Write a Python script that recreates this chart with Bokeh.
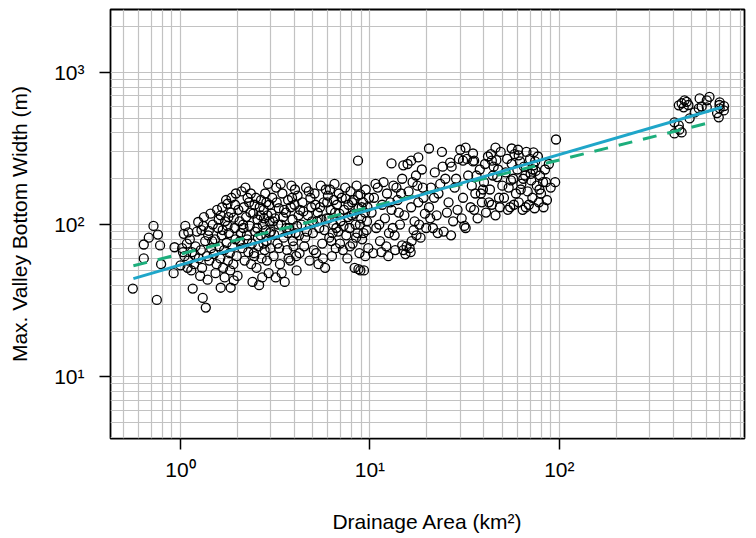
from bokeh.plotting import figure
from bokeh.models import ColumnDataSource, FixedTicker, CustomJSTickFormatter, Range1d
from bokeh.embed import file_html
from bokeh.resources import INLINE

# ---- data (drainage area km^2, max valley bottom width m) ----
area0 = [0.56, 0.75, 0.64, 0.68, 0.76, 0.72, 0.78, 0.64, 0.79, 0.92, 0.93]
width0 = [38, 32, 74, 82, 86, 98, 73, 60, 55, 48, 71]

area1 = [1.02, 1.05, 1.08, 1.1, 1.12, 1.15, 1.18, 1.2, 1.22, 1.25, 1.28, 1.3, 1.32, 1.35, 1.38, 1.4,
         1.06, 1.04, 1.10, 1.16, 1.31, 1.36, 1.39, 1.0, 1.03, 1.14, 1.24, 1.27, 1.33, 1.19, 1.09, 1.29]
width1 = [70, 62, 75, 58, 80, 66, 55, 72, 90, 60, 68, 52, 98, 78, 62, 85,
          98, 87, 89, 38, 33, 28.5, 43.5, 54, 66, 50, 104, 46, 112, 63, 52, 92]

area2 = [1.44, 1.63, 1.77, 1.77, 1.91, 1.41, 1.63, 1.84, 1.91, 2.0, 1.45, 1.5, 1.52, 1.55, 1.58, 1.6,
         1.62, 1.65, 1.68, 1.7, 1.72, 1.75, 1.78, 1.8, 1.82, 1.85, 1.88, 1.9, 1.93, 1.95, 1.98, 1.48,
         1.56, 1.66, 1.74, 1.86, 1.96, 1.94, 1.53, 1.71, 1.83, 1.47, 1.67, 1.79, 1.59, 1.42]
width2 = [118, 115, 98, 137, 111, 91, 38.5, 38.5, 43, 46, 70, 64, 80, 55, 95, 72,
          60, 85, 52, 68, 105, 76, 58, 88, 65, 120, 72, 55, 95, 80, 62, 100,
          125, 130, 145, 150, 160, 135, 48, 45, 50, 78, 92, 112, 108, 58]

area3 = [2.02, 2.05, 2.08, 2.1, 2.12, 2.15, 2.18, 2.2, 2.22, 2.25, 2.28, 2.3, 2.32, 2.35, 2.38, 2.4,
         2.42, 2.45, 2.48, 2.5, 2.52, 2.55, 2.58, 2.6, 2.62, 2.65, 2.68, 2.7, 2.72, 2.75, 2.78, 2.8,
         2.82, 2.85, 2.88, 2.9, 2.92, 2.95, 2.98, 2.06, 2.16, 2.26, 2.36, 2.46, 2.56, 2.66, 2.76, 2.86,
         2.96, 2.14, 2.34, 2.54, 2.74, 2.94, 2.24, 2.44, 2.64, 2.84]
width3 = [125, 105, 88, 165, 70, 95, 58, 175, 112, 80, 66, 140, 98, 160, 75, 42,
          118, 62, 90, 150, 52, 108, 72, 40, 130, 85, 60, 45, 100, 125, 68, 160,
          92, 78, 115, 185, 48, 105, 70, 78, 130, 150, 55, 135, 82, 145, 110, 58,
          88, 100, 120, 95, 75, 135, 85, 65, 115, 140]

area4 = [3.0, 3.05, 3.1, 3.15, 3.2, 3.25, 3.3, 3.35, 3.4, 3.45, 3.5, 3.55, 3.6, 3.65, 3.7, 3.75,
         3.8, 3.85, 3.9, 3.95, 4.0, 4.05, 4.1, 4.15, 4.2, 4.25, 3.02, 3.12, 3.22, 3.32, 3.42, 3.52,
         3.62, 3.72, 3.82, 3.92, 4.02, 4.12, 4.22, 3.08, 3.28, 3.48, 3.68, 3.88, 4.08, 4.28, 3.18, 3.38]
width4 = [90, 150, 62, 110, 175, 75, 128, 55, 100, 160, 82, 42, 120, 68, 145, 95,
          58, 180, 108, 72, 135, 88, 50, 155, 115, 65, 118, 86, 140, 70, 48, 125,
          95, 60, 130, 78, 170, 98, 85, 105, 100, 112, 88, 150, 62, 125, 45, 185]

area5 = [4.35, 4.4, 4.5, 4.6, 4.7, 4.8, 4.9, 5.0, 5.1, 5.2, 5.3, 5.4, 5.5, 5.6, 5.7, 5.8,
         5.9, 6.0, 6.1, 6.2, 6.3, 6.4, 6.5, 6.6, 6.7, 6.8, 6.9, 4.45, 4.65, 4.85, 5.05, 5.25,
         5.45, 5.65, 5.85, 6.05, 6.25, 6.45, 6.65, 6.85, 4.55, 4.95, 5.35, 5.75, 6.15, 6.55, 6.95, 5.15,
         5.95, 6.35, 4.75, 5.55]
width5 = [100, 140, 72, 175, 115, 58, 130, 88, 160, 65, 120, 95, 180, 75, 140, 52,
          110, 155, 82, 125, 62, 100, 185, 70, 135, 90, 118, 122, 90, 150, 68, 105,
          130, 60, 170, 110, 78, 145, 95, 160, 82, 105, 55, 92, 170, 120, 75, 135,
          140, 88, 165, 108]

area6 = [7.0, 7.1, 7.2, 7.3, 7.4, 7.5, 7.6, 7.7, 7.8, 7.9, 8.0, 8.1, 8.2, 8.3, 8.4, 8.5,
         8.6, 8.7, 8.8, 8.9, 9.0, 9.1, 9.2, 9.3, 9.4, 9.5, 9.6, 9.7, 9.8, 9.9, 8.65, 8.7,
         8.9, 7.25, 7.65, 8.05, 8.45, 8.85, 9.25, 9.65, 7.45, 7.85, 8.25, 8.65, 9.05, 9.45]
width6 = [105, 150, 68, 125, 175, 85, 60, 135, 95, 165, 115, 75, 145, 52, 100, 180,
          88, 128, 65, 158, 110, 80, 140, 50, 120, 170, 92, 130, 70, 150, 263, 51,
          50, 98, 112, 140, 82, 100, 88, 105, 148, 72, 118, 155, 130, 62]

area7 = [10.2, 10.5, 10.8, 11.0, 11.3, 11.6, 12.0, 12.3, 12.6, 13.0, 13.3, 13.6, 14.0, 14.4, 14.8, 15.2,
         15.6, 16.0, 16.5, 17.0, 17.5, 18.0, 18.5, 19.0, 19.5, 10.4, 11.2, 12.2, 13.2, 14.2, 15.0, 16.2,
         17.2, 18.2, 19.2, 10.7, 11.8, 12.8, 13.8, 14.6, 15.8, 16.8, 17.8, 18.8, 15.4, 16.4, 14.8, 11.5,
         12.5, 13.5, 19.8, 17.6, 16.6]
width7 = [120, 150, 95, 175, 78, 135, 110, 160, 88, 125, 180, 68, 145, 100, 200, 115,
          72, 165, 130, 92, 210, 140, 82, 175, 118, 65, 100, 72, 95, 120, 68, 70,
          105, 100, 150, 185, 190, 140, 175, 160, 250, 190, 180, 230, 64, 66, 73, 66,
          62, 85, 95, 85, 78]

area8 = [20.5, 21, 21.5, 22, 22.5, 23, 24, 24.5, 25, 26, 27, 27.5, 28, 29, 30, 31,
         32, 33, 34, 35, 36, 37, 38, 39, 40, 41, 42, 43, 44, 45, 46, 47,
         48, 49, 50, 21.8, 23.5, 25.5, 26.5, 28.5, 30.5, 32.5, 34.5, 36.5, 38.5, 40.5, 42.5, 44.5,
         46.5, 48.5, 22.8, 26.8, 31.5, 35.5, 39.5, 43.5, 47.5, 29.5, 24.2, 20.8]
width8 = [130, 175, 95, 220, 115, 160, 300, 90, 200, 140, 240, 105, 175, 125, 310, 150,
          95, 210, 130, 260, 160, 110, 230, 140, 190, 120, 280, 170, 135, 240, 115, 205,
          150, 300, 180, 150, 185, 120, 255, 200, 110, 270, 180, 210, 160, 250, 140, 210,
          265, 130, 88, 85, 98, 125, 170, 290, 230, 270, 240, 110]

area9 = [51, 52, 53, 54, 55, 56, 57, 58, 59, 60, 61, 62, 63, 64, 65, 66,
         67, 68, 69, 70, 71, 72, 73, 74, 75, 76, 77, 78, 79, 80, 82, 84,
         86, 88, 90, 95, 96, 53.5, 57.5, 62.5, 66.5, 70.5, 74.5, 78.5, 82.5, 85, 60.5, 55.5,
         64.5, 72.5]
width9 = [150, 220, 270, 175, 130, 250, 200, 290, 160, 230, 140, 260, 185, 125, 240, 210,
          300, 165, 135, 270, 195, 150, 245, 128, 225, 180, 280, 140, 210, 160, 190, 230,
          145, 250, 175, 190, 362, 125, 135, 170, 130, 215, 260, 170, 130, 190, 310, 195,
          200, 230]

area_hi = [13, 15, 18, 16.5, 20.5, 32, 35, 31, 35.5, 46, 56, 73, 44, 61]
width_hi = [252, 245, 276, 263, 316, 320, 293, 263, 263, 320, 316, 298, 263, 285]

area_big = [442, 458, 453, 427, 550, 600, 564, 702, 702, 694, 738, 487, 427, 405, 442, 405,
            544, 518, 600, 470, 620, 480, 700, 740, 430, 680]
width_big = [626, 655, 589, 607, 674, 655, 597, 635, 580, 506, 562, 498, 448, 397, 403, 469,
             580, 545, 589, 640, 690, 610, 610, 600, 420, 540]

# regression lines (end points)
fit_area = [0.564, 720]
fit_width = [44.2, 589]
alt_area = [0.564, 600]
alt_width = [53.7, 462]

major_ticks = [0.1, 1, 10, 100, 1000, 10000]

area = (area0 + area1 + area2 + area3 + area4 + area5 + area6 + area7 + area8 + area9
        + area_hi + area_big)
width = (width0 + width1 + width2 + width3 + width4 + width5 + width6 + width7 + width8 + width9
         + width_hi + width_big)

FONT = "Liberation Sans"

p = figure(width=750, height=536, x_axis_type="log", y_axis_type="log",
           x_range=Range1d(0.427, 949), y_range=Range1d(3.94, 2584),
           output_backend="svg", toolbar_location=None,
           min_border_left=110, min_border_right=6, min_border_top=9, min_border_bottom=98)

minor = [m * 10.0 ** k for k in range(-1, 4) for m in range(2, 10)]
for ax in (p.xaxis[0], p.yaxis[0]):
    ax.ticker = FixedTicker(ticks=major_ticks, minor_ticks=minor)
    ax.formatter = CustomJSTickFormatter(code="""
        const sup = {"0":"\\u2070","1":"\\u00b9","2":"\\u00b2","3":"\\u00b3","4":"\\u2074","-":"\\u207b"};
        const e = Math.round(Math.log10(tick));
        return "10" + String(e).split("").map(c => sup[c]).join("");
    """)
    ax.axis_line_color = None
    ax.major_tick_line_color = "black"
    ax.major_tick_line_width = 1.5
    ax.major_tick_out = 11
    ax.major_tick_in = 0
    ax.minor_tick_line_color = None
    ax.major_label_text_font = FONT
    ax.major_label_text_font_size = "21px"
    ax.major_label_text_color = "black"
    ax.axis_label_text_font = FONT
    ax.axis_label_text_font_size = "21px"
    ax.axis_label_text_font_style = "normal"
    ax.axis_label_text_color = "black"

p.xaxis.axis_label = "Drainage Area (km\u00b2)"
p.yaxis.axis_label = "Max. Valley Bottom Width (m)"
p.xaxis.major_label_standoff = 8
p.xaxis.axis_label_standoff = 26
p.yaxis.major_label_standoff = 15
p.yaxis.axis_label_standoff = 20

for g in (p.xgrid[0], p.ygrid[0]):
    g.grid_line_color = "#C2C2C2"
    g.grid_line_width = 1.2
    g.minor_grid_line_color = "#C2C2C2"
    g.minor_grid_line_width = 1.2

p.outline_line_color = "black"
p.outline_line_width = 1.8
p.background_fill_color = "white"
p.border_fill_color = "white"

src = ColumnDataSource(dict(area=area, width=width))
p.scatter("area", "width", source=src, marker="circle", size=9,
          fill_color=None, line_color="black", line_width=1.3)

p.line(alt_area, alt_width, line_color="#1DAE7C", line_width=3, line_dash="14 11")
p.line(fit_area, fit_width, line_color="#1FA6C9", line_width=3)

open("out.html", "w", encoding="utf-8").write(file_html(p, INLINE))
